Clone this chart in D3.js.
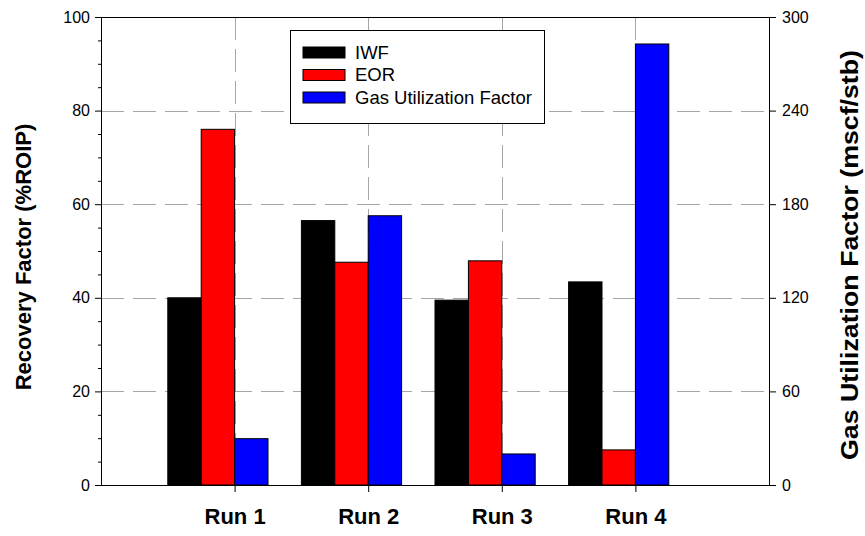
<!DOCTYPE html>
<html>
<head>
<meta charset="utf-8">
<script src="https://cdn.jsdelivr.net/npm/d3@7"></script>
<style>
  body { margin: 0; background: #fff; }
  svg { display: block; font-family: "Liberation Sans", Arial, sans-serif; }
</style>
</head>
<body>
<svg id="chart" width="865" height="536"></svg>
<script>
// values
const runs = ['Run 1', 'Run 2', 'Run 3', 'Run 4']
const iwf = [40, 56.5, 39.5, 43.4]
const eor = [76, 47.6, 47.9, 7.5]
const guf = [29.7, 172.6, 19.9, 282.7]
const leftTicks = [0, 20, 40, 60, 80, 100]
const rightTicks = [0, 60, 120, 180, 240, 300]
const legendNames = ['IWF', 'EOR', 'Gas Utilization Factor']
const colors = ['#000000', '#ff0000', '#0000ff']

const svg = d3.select('#chart')
const pl = 101, pr = 769, pt = 17, pb = 485

const x = d3.scaleLinear().domain([0, 5]).range([pl, pr])
const yL = d3.scaleLinear().domain([0, 100]).range([pb, pt])
const yR = d3.scaleLinear().domain([0, 300]).range([pb, pt])

// grid
const grid = svg.append('g')
  .attr('stroke', '#a6a6a6')
  .attr('stroke-width', 1)
  .attr('stroke-dasharray', '23,9')
grid.selectAll('line.h')
  .data([20, 40, 60, 80])
  .join('line')
  .attr('class', 'h')
  .attr('x1', pl).attr('x2', pr)
  .attr('y1', d => Math.round(yL(d)) + 0.5).attr('y2', d => Math.round(yL(d)) + 0.5)
grid.selectAll('line.v')
  .data(runs)
  .join('line')
  .attr('class', 'v')
  .attr('x1', (d, i) => Math.round(x(i + 1)) + 0.5).attr('x2', (d, i) => Math.round(x(i + 1)) + 0.5)
  .attr('y1', pt).attr('y2', pb)

// bars
const bw = x(0.25) - x(0)
const series = [
  { vals: iwf, scale: yL, off: -0.5, color: colors[0] },
  { vals: eor, scale: yL, off: -0.25, color: colors[1] },
  { vals: guf, scale: yR, off: 0, color: colors[2] }
]
series.forEach(s => {
  svg.append('g').selectAll('rect')
    .data(s.vals)
    .join('rect')
    .attr('x', (d, i) => x(i + 1 + s.off))
    .attr('width', bw)
    .attr('y', d => s.scale(d))
    .attr('height', d => pb - s.scale(d))
    .attr('fill', s.color)
    .attr('stroke', '#000')
    .attr('stroke-width', 1)
})

// axes
const leftAxis = svg.append('g')
  .attr('transform', `translate(${pl},0)`)
  .call(d3.axisLeft(yL).tickValues(leftTicks).tickSize(6).tickPadding(5))
svg.append('g')
  .attr('transform', `translate(${pl},0)`)
  .call(d3.axisLeft(yL).tickValues(d3.range(5, 100, 5).filter(v => v % 20 !== 0)).tickSize(3).tickFormat(''))
  .select('.domain').remove()

const rightAxis = svg.append('g')
  .attr('transform', `translate(${pr},0)`)
  .call(d3.axisRight(yR).tickValues(rightTicks).tickSize(7).tickPadding(6))

const bottomAxis = svg.append('g')
  .attr('transform', `translate(0,${pb})`)
  .call(d3.axisBottom(x).tickValues([1, 2, 3, 4]).tickSize(7).tickPadding(16)
    .tickFormat(d => runs[d - 1]))

svg.append('line')
  .attr('x1', pl).attr('x2', pr).attr('y1', pt + 0.5).attr('y2', pt + 0.5)
  .attr('stroke', '#000')

svg.selectAll('.domain').attr('stroke', '#000')
svg.selectAll('.tick line').attr('stroke', '#000')
svg.selectAll('.tick text').attr('fill', '#000')
  .style('font-family', '"Liberation Sans", Arial, sans-serif')
leftAxis.selectAll('.tick text').style('font-size', '16px')
rightAxis.selectAll('.tick text').style('font-size', '16px')
bottomAxis.selectAll('.tick text').style('font-size', '22px').style('font-weight', 'bold')

// plain axis lines, no end ticks
leftAxis.select('.domain').attr('d', `M0.5,${pt}V${pb}`)
rightAxis.select('.domain').attr('d', `M0.5,${pt}V${pb}`)
bottomAxis.select('.domain').attr('d', `M${pl},0.5H${pr}`)

// axis titles
svg.append('text')
  .attr('transform', `translate(31,${(pt + pb) / 2 + 6}) rotate(-90)`)
  .attr('text-anchor', 'middle')
  .style('font-size', '22px').style('font-weight', 'bold')
  .text('Recovery Factor (%ROIP)')
svg.append('text')
  .attr('transform', `translate(858,${(pt + pb) / 2 + 4}) rotate(-90)`)
  .attr('text-anchor', 'middle')
  .attr('textLength', 410)
  .attr('lengthAdjust', 'spacingAndGlyphs')
  .style('font-size', '24px').style('font-weight', 'bold')
  .text('Gas Utilization Factor (mscf/stb)')

// legend
const lg = svg.append('g')
lg.append('rect')
  .attr('x', 290.5).attr('y', 30.5).attr('width', 254).attr('height', 93)
  .attr('fill', '#fff').attr('stroke', '#000')
legendNames.forEach((name, i) => {
  const cy = 52.5 + i * 22.5
  lg.append('rect')
    .attr('x', 303).attr('y', cy - 5.5).attr('width', 42).attr('height', 11)
    .attr('fill', colors[i]).attr('stroke', '#000')
  lg.append('text')
    .attr('x', 355).attr('y', cy).attr('dy', '0.35em')
    .style('font-size', '18.5px')
    .text(name)
})
</script>
</body>
</html>
